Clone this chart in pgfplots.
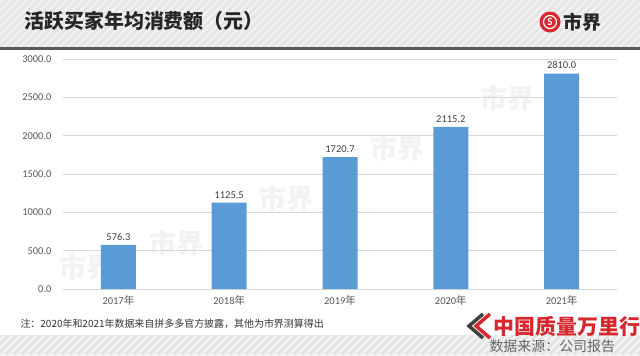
\documentclass[border=0pt]{standalone}
\usepackage{fontspec}
\setmainfont{Carlito}
\newfontfamily\cjk{Noto Sans CJK SC}
\usepackage{pgfplots}
\pgfplotsset{compat=1.18}
\definecolor{barblue}{HTML}{5B9BD5}
\definecolor{gridgray}{HTML}{D9D9D9}
\definecolor{ticktext}{HTML}{595959}
\definecolor{bandgray}{HTML}{E4E4E4}
\definecolor{stripe}{HTML}{F2F2F2}
\definecolor{logored}{HTML}{D7282F}
\begin{document}
\begin{tikzpicture}[x=1bp,y=1bp]
\useasboundingbox (0,0) rectangle (640,355);
\fill[white] (0,0) rectangle (640,355);
% header band
\fill[bandgray] (0,308) rectangle (640,355);
\begin{scope}
\clip (0,308) rectangle (640,355);
\foreach \i in {-60,-52,...,700} \draw[stripe,line width=2.5bp] (\i,300) -- ++(60,60);
\end{scope}
\draw[black!65,line width=3bp] (0,307) -- (640,307);
% bottom band
\fill[bandgray] (0,0) rectangle (640,20);
\begin{scope}
\clip (0,0) rectangle (640,20);
\foreach \i in {-60,-52,...,700} \draw[stripe,line width=2.5bp] (\i,-5) -- ++(30,30);
\end{scope}
% watermarks
\foreach \p in {(86,88),(176,112),(286,157),(397,207),(507,257)}
  \node[inner sep=0pt,text=black!5,font=\cjk\bfseries\fontsize{27}{27}\selectfont] at \p {市界};
% title
\node[anchor=west,font=\cjk\bfseries\fontsize{20}{20}\selectfont,text=black!85] at (21,334) {活跃买家年均消费额（元）};
% logo
\fill[logored] (550,333) circle (10.5);
\draw[white,line width=1.2bp] (550,333) circle (6.5);
\node[text=white,font=\bfseries\fontsize{11}{11}\selectfont] at (550,333) {S};
\node[anchor=west,font=\cjk\bfseries\fontsize{19}{19}\selectfont,text=black!85] at (560,333) {市界};
% note
\node[anchor=west,font=\cjk\fontsize{10}{10}\selectfont,text=black!80] at (17,31) {注：2020年和2021年数据来自拼多多官方披露，其他为市界测算得出};
% bottom-right logo
\draw[logored,line width=3.5bp] (490,41) -- (476,29) -- (490,17);
\draw[black!75,line width=3.5bp] (483,41) -- (469,29) -- (483,17);
\node[anchor=west,font=\cjk\bfseries\fontsize{21}{21}\selectfont,text=logored] at (490,29) {中国质量万里行};
\node[anchor=west,font=\cjk\fontsize{14}{14}\selectfont,text=black!60] at (486,9) {数据来源：公司报告};
\begin{axis}[
  at={(63bp,66bp)}, anchor=south west,
  scale only axis, width=554bp, height=230bp,
  ymin=0, ymax=3000, xmin=-0.5, xmax=4.5,
  ytick={0,500,1000,1500,2000,2500,3000},
  xtick={0,1,2,3,4},
  xticklabels={2017{\cjk 年},2018{\cjk 年},2019{\cjk 年},2020{\cjk 年},2021{\cjk 年}},
  scaled y ticks=false,
  ymajorgrids, grid style={draw=gridgray,line width=0.8bp},
  major tick length=0pt,
  axis y line*=left,
  y axis line style={draw=none},
  axis x line*=bottom,
  x axis line style={draw=gridgray,line width=0.8bp,-},
  /pgf/number format/fixed,
  /pgf/number format/fixed zerofill,
  /pgf/number format/precision=1,
  /pgf/number format/1000 sep={},
  /pgf/number format/assume math mode=true,
  yticklabel style={font=\fontsize{10.5}{10.5}\selectfont,text=ticktext,anchor=east,xshift=-8bp},
  xticklabel style={font=\fontsize{10.5}{10.5}\selectfont,text=ticktext,yshift=-3bp},
  ybar, bar width=35bp,
  nodes near coords,
  every node near coord/.append style={font=\fontsize{10.5}{10.5}\selectfont,text=black!75,yshift=1bp},
  clip=false,
]
\addplot[fill=barblue,draw=none] coordinates {(0,576.3) (1,1125.5) (2,1720.7) (3,2115.2) (4,2810.0)};
\end{axis}
\end{tikzpicture}
\end{document}
